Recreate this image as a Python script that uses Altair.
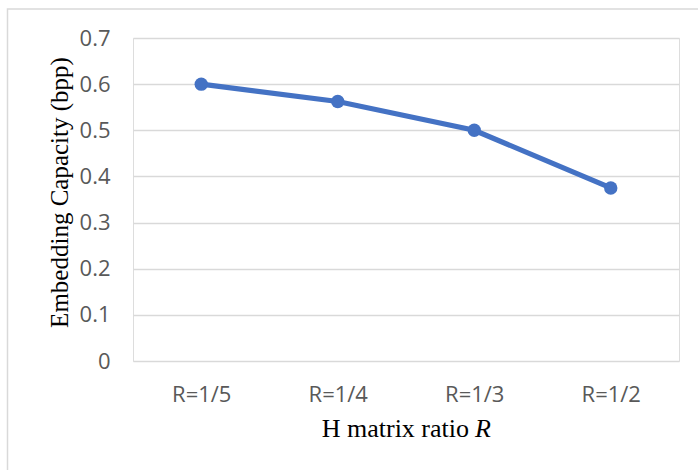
import altair as alt
import pandas as pd

categories = ["R=1/5", "R=1/4", "R=1/3", "R=1/2"]
capacity = [0.6, 0.5625, 0.5, 0.375]
y_ticks = [0, 0.1, 0.2, 0.3, 0.4, 0.5, 0.6, 0.7]

df = pd.DataFrame({"ratio": categories, "cap": capacity})

W, H = 546, 323
LABEL_FONT = "Open Sans"
SERIF = "Liberation Serif"

x_enc = alt.X(
    "ratio:N",
    sort=categories,
    scale=alt.Scale(paddingInner=0, paddingOuter=0),
    axis=alt.Axis(
        title=None, ticks=False, domain=False, labelAngle=0,
        labelFont=LABEL_FONT, labelFontSize=22, labelColor="#595959",
        labelPadding=23, grid=False,
    ),
)
y_enc = alt.Y(
    "cap:Q",
    scale=alt.Scale(domain=[0, 0.7], nice=False),
    axis=alt.Axis(
        title="Embedding Capacity (bpp)", values=y_ticks,
        labelExpr="datum.value == 0 ? '0' : format(datum.value, '.1f')",
        ticks=False, domain=False,
        labelFont=LABEL_FONT, labelFontSize=22, labelColor="#595959",
        labelPadding=23,
        grid=True, gridColor="#d9d9d9", gridWidth=1.5,
        titleFont=SERIF, titleFontSize=25, titleFontWeight="normal",
        titleColor="#000000", titleX=-66, titleY=154,
        titleAlign="center", titleBaseline="alphabetic", titleAngle=-90,
    ),
)

base = alt.Chart(df)

line = base.mark_line(color="#4472C4", strokeWidth=5.2).encode(x=x_enc, y=y_enc)
pts = base.mark_circle(color="#4472C4", size=180, opacity=1).encode(x=x_enc, y=y_enc)

border = alt.Chart(pd.DataFrame({"a": [0]})).mark_rect(
    fill=None, stroke="#d9d9d9", strokeWidth=1.5
).encode(
    x=alt.value(-125.5), x2=alt.value(700), y=alt.value(-29), y2=alt.value(500)
)

title_main = alt.Chart(pd.DataFrame({"t": ["H matrix ratio"]})).mark_text(
    font=SERIF, fontSize=26, color="#000000", align="right", baseline="alphabetic"
).encode(text="t:N", x=alt.value(336), y=alt.value(399))
title_r = alt.Chart(pd.DataFrame({"t": ["R"]})).mark_text(
    font=SERIF, fontSize=26, fontStyle="italic", color="#000000",
    align="left", baseline="alphabetic"
).encode(text="t:N", x=alt.value(342), y=alt.value(399))

chart = alt.layer(border, line, pts, title_main, title_r).properties(
    width=W, height=H,
    autosize=alt.AutoSizeParams(type="none"),
    padding={"left": 133, "top": 38, "right": 19, "bottom": 109},
).configure_view(stroke=None).configure(background="#ffffff")

chart.save("out.html", embed_options={"renderer": "svg", "actions": False})
